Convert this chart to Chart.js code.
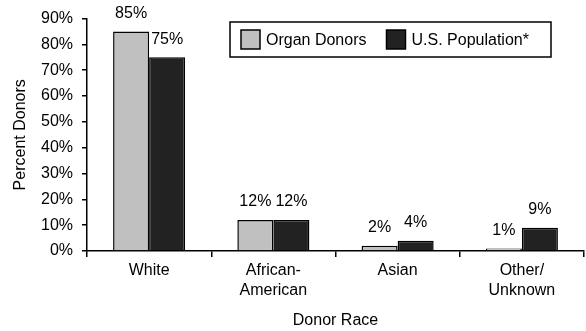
<!DOCTYPE html>
<html>
<head>
<meta charset="utf-8">
<script src="https://cdn.jsdelivr.net/npm/chart.js@4.4.1/dist/chart.umd.min.js"></script>
<style>
	html, body { margin: 0; padding: 0; background: #fff; }
	#wrap { width: 586px; height: 331px; }
</style>
</head>
<body>
<div id="wrap"><canvas id="mycanvas" width="586" height="331"></canvas></div>
<script>
// donor race breakdown, percent
var races = [["White"], ["African-", "American"], ["Asian"], ["Other/", "Unknown"]];
var organDonors = [85, 12, 2, 1];
var usPopulation = [75, 12, 4, 9];
var seriesNames = ["Organ Donors", "U.S. Population*"];
var yMax = 90;
var yStep = 10;

var FONT = "'Liberation Sans', Arial, Helvetica, sans-serif";
var FSIZE = 16;

// value labels above each bar
var barLabels = {
	id: 'barLabels',
	afterDatasetsDraw: function(chart) {
		var ctx = chart.ctx;
		ctx.save();
		ctx.font = FSIZE + 'px ' + FONT;
		ctx.fillStyle = '#000';
		ctx.textAlign = 'center';
		ctx.textBaseline = 'middle';
		chart.data.datasets.forEach(function(ds, i) {
			chart.getDatasetMeta(i).data.forEach(function(bar, j) {
				ctx.fillText(ds.data[j] + '%', bar.x, bar.y - 18);
			});
		});
		ctx.restore();
	}
};

// boxed legend sitting inside the plot
var boxLegend = {
	id: 'boxLegend',
	afterDraw: function(chart) {
		var ctx = chart.ctx;
		var x = 230, y = 22, w = 321, h = 35;
		ctx.save();
		ctx.fillStyle = '#fff';
		ctx.fillRect(x, y, w, h);
		ctx.lineWidth = 1.5;
		ctx.strokeStyle = '#000';
		ctx.strokeRect(x, y, w, h);
		ctx.font = FSIZE + 'px ' + FONT;
		ctx.textBaseline = 'middle';
		var cx = x + 11;
		chart.data.datasets.forEach(function(ds) {
			ctx.fillStyle = ds.backgroundColor;
			ctx.fillRect(cx, y + 8, 19, 19);
			ctx.lineWidth = 1.5;
			ctx.strokeRect(cx, y + 8, 19, 19);
			ctx.fillStyle = '#000';
			ctx.fillText(ds.label, cx + 25, y + h / 2 + 1);
			cx += 25 + ctx.measureText(ds.label).width + 20;
		});
		ctx.restore();
	}
};

var chartdata = {
	labels: races,
	datasets: [
		{
			label: seriesNames[0],
			backgroundColor: '#c0c0c0',
			borderColor: '#000',
			borderWidth: 1.5,
			data: organDonors
		},
		{
			label: seriesNames[1],
			backgroundColor: '#222222',
			borderColor: '#000',
			borderWidth: 1.5,
			data: usPopulation
		}
	]
};

var ctx = document.getElementById('mycanvas');

var barGraph = new Chart(ctx, {
	type: 'bar',
	data: chartdata,
	plugins: [barLabels, boxLegend],
	options: {
		responsive: false,
		animation: false,
		devicePixelRatio: 1,
		layout: { padding: { top: 16, right: 2, bottom: 0, left: 0 } },
		datasets: { bar: { categoryPercentage: 0.58, barPercentage: 1 } },
		plugins: {
			legend: { display: false },
			tooltip: { enabled: false }
		},
		scales: {
			x: {
				offset: true,
				grid: { offset: true, drawOnChartArea: false, drawTicks: true, tickLength: 6, color: '#000', lineWidth: 1.5 },
				border: { display: true, color: '#000', width: 1.5 },
				ticks: { color: '#000', padding: 4, maxRotation: 0, font: { family: FONT, size: FSIZE, lineHeight: 1.22 } },
				title: { display: true, text: 'Donor Race', color: '#000', padding: { top: 0, bottom: 1 }, font: { family: FONT, size: FSIZE } },
				afterFit: function(scale) { scale.height = 80; }
			},
			y: {
				min: 0,
				max: yMax,
				grid: { drawOnChartArea: false, drawTicks: true, tickLength: 5, color: '#000', lineWidth: 1.5 },
				border: { display: true, color: '#000', width: 1.5 },
				ticks: {
					stepSize: yStep,
					color: '#000',
					padding: 9,
					font: { family: FONT, size: FSIZE },
					callback: function(v) { return v + '%'; }
				},
				title: { display: true, text: 'Percent Donors', color: '#000', padding: { top: 11, bottom: 0 }, font: { family: FONT, size: FSIZE } },
				afterFit: function(scale) { scale.width = 87; }
			}
		}
	}
});
</script>
</body>
</html>
